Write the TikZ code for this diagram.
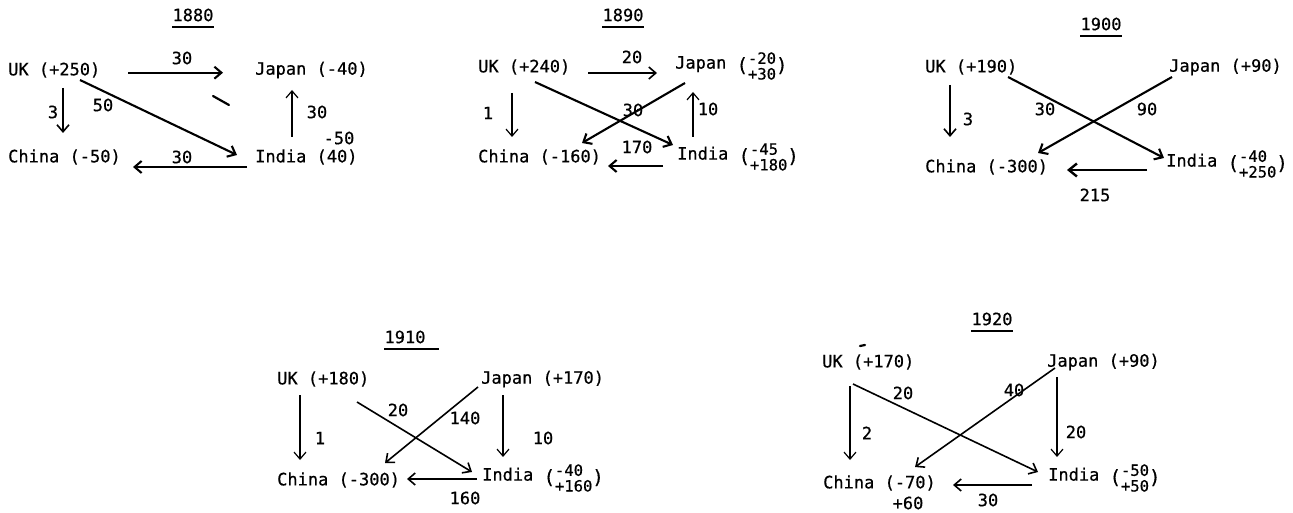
\documentclass[tikz,border=0pt]{standalone}
\usepackage{fontspec}
\setmainfont{DejaVu Sans Mono}[FakeBold=0.6,AutoFakeBold=0.6]
\usetikzlibrary{arrows.meta}
\newcommand{\pstack}[2]{{\fontsize{19}{19}\selectfont\raisebox{-3pt}{(}}\raisebox{-3pt}{\fontsize{15.5}{14}\selectfont\begin{tabular}[c]{@{}l@{}}#1\\#2\end{tabular}}{\fontsize{19}{19}\selectfont\raisebox{-3pt}{)}}}
\begin{document}
\begin{tikzpicture}[x=1pt,y=-1pt,
 txt/.style={anchor=west,inner sep=0pt,font=\fontsize{17}{17}\selectfont\bfseries},
 lbl/.style={inner sep=0pt,font=\fontsize{17}{17}\selectfont\bfseries},
 arr/.style={-{Straight Barb[length=7pt,width=12pt]},line width=1.2pt},
 marr/.style={arr,line width=1.6pt},
 tarr/.style={arr,line width=2.1pt},
 uline/.style={line width=1.8pt},
 speck/.style={line width=2.2pt,line cap=round}]
\useasboundingbox (0,0) rectangle (1293,513);
% ---------------- 1880 ----------------
\node[lbl] (t1880) at (193,15) {1880};
\draw[uline] ([yshift=-5pt]t1880.south west) -- ([yshift=-5pt]t1880.south east);
\node[txt] (uk1) at (8,70) {UK (+250)};
\node[txt] (jp1) at (255,70) {Japan (-40)};
\node[txt] (ch1) at (8,157) {China (-50)};
\node[txt] (in1) at (255,157) {India (40)};
\coordinate (a1s) at (128,72.7); \coordinate (a1e) at (223,72.7);
\coordinate (b1s) at (63,88);    \coordinate (b1e) at (63,133);
\coordinate (c1s) at (80,80);    \coordinate (c1e) at (237,155);
\coordinate (d1s) at (292,137);  \coordinate (d1e) at (292,90);
\coordinate (e1s) at (247,167);  \coordinate (e1e) at (133,167);
\draw[tarr] (a1s) -- (a1e);
\draw[marr] (b1s) -- (b1e);
\draw[tarr] (c1s) -- (c1e);
\draw[arr] (d1s) -- (d1e);
\draw[tarr] (e1s) -- (e1e);
\node[lbl] (la1) at (182,58) {30};
\node[lbl] (lb1) at (53,112) {3};
\node[lbl] (lc1) at (103,105) {50};
\node[lbl] (ld1) at (317,112) {30};
\node[lbl] (ld1b) at (339,138) {-50};
\node[lbl] (le1) at (182,157) {30};
\coordinate (s1a) at (213,96); \coordinate (s1b) at (229,105);
\draw[speck] (s1a) -- (s1b);
% ---------------- 1890 ----------------
\node[lbl] (t1890) at (623,15) {1890};
\draw[uline] ([yshift=-5pt]t1890.south west) -- ([yshift=-5pt]t1890.south east);
\node[txt] (uk2) at (478,67) {UK (+240)};
\node[txt] (jp2) at (675,68) {Japan \pstack{-20}{+30}};
\node[txt] (ch2) at (478,157) {China (-160)};
\node[txt] (in2) at (677,159) {India \pstack{-45}{+180}};
\coordinate (a2s) at (588,73);  \coordinate (a2e) at (657,73);
\coordinate (b2s) at (512,93);  \coordinate (b2e) at (512,137);
\coordinate (c2s) at (535,82);  \coordinate (c2e) at (673,145);
\coordinate (f2s) at (685,83);  \coordinate (f2e) at (582,143);
\coordinate (d2s) at (693,137); \coordinate (d2e) at (693,92);
\coordinate (e2s) at (663,166); \coordinate (e2e) at (608,166);
\draw[marr] (a2s) -- (a2e);
\draw[arr] (b2s) -- (b2e);
\draw[tarr] (c2s) -- (c2e);
\draw[tarr] (f2s) -- (f2e);
\draw[arr] (d2s) -- (d2e);
\draw[tarr] (e2s) -- (e2e);
\node[lbl] (la2) at (632,57) {20};
\node[lbl] (lb2) at (488,113) {1};
\node[lbl] (lf2) at (633,110) {30};
\node[lbl] (ld2) at (708,109) {10};
\node[lbl] (le2) at (637,147) {170};
% ---------------- 1900 ----------------
\node[lbl] (t1900) at (1101,24) {1900};
\draw[uline] ([yshift=-5pt]t1900.south west) -- ([yshift=-5pt]t1900.south east);
\node[txt] (uk3) at (925,67) {UK (+190)};
\node[txt] (jp3) at (1169,67) {Japan (+90)};
\node[txt] (ch3) at (925,167) {China (-300)};
\node[txt] (in3) at (1166,166) {India \pstack{-40}{+250}};
\coordinate (b3s) at (950,85);   \coordinate (b3e) at (950,137);
\coordinate (c3s) at (1008,77);  \coordinate (c3e) at (1164,158);
\coordinate (f3s) at (1172,77);  \coordinate (f3e) at (1038,153);
\coordinate (e3s) at (1147,170); \coordinate (e3e) at (1067,170);
\draw[marr] (b3s) -- (b3e);
\draw[tarr] (c3s) -- (c3e);
\draw[tarr] (f3s) -- (f3e);
\draw[marr,-{Straight Barb[length=8pt,width=13pt,line width=2.4pt]}] (e3s) -- (e3e);
\node[lbl] (lb3) at (968,119) {3};
\node[lbl] (lc3) at (1045,109) {30};
\node[lbl] (lf3) at (1147,109) {90};
\node[lbl] (le3) at (1095,195) {215};
% ---------------- 1910 ----------------
\node[lbl] (t1910) at (405,337) {1910};
\draw[uline] ([yshift=-5pt]t1910.south west) -- ([yshift=-5pt,xshift=13pt]t1910.south east);
\node[txt] (uk4) at (277,379) {UK (+180)};
\node[txt] (jp4) at (481,379) {Japan (+170)};
\node[txt] (ch4) at (277,480) {China (-300)};
\node[txt] (in4) at (482,480) {India \pstack{-40}{+160}};
\coordinate (b4s) at (300,395); \coordinate (b4e) at (300,460);
\coordinate (c4s) at (357,402); \coordinate (c4e) at (472,472);
\coordinate (f4s) at (478,387); \coordinate (f4e) at (385,463);
\coordinate (g4s) at (503,395); \coordinate (g4e) at (503,457);
\coordinate (e4s) at (477,479); \coordinate (e4e) at (407,479);
\draw[arr] (b4s) -- (b4e);
\draw[marr] (c4s) -- (c4e);
\draw[marr] (f4s) -- (f4e);
\draw[arr] (g4s) -- (g4e);
\draw[marr] (e4s) -- (e4e);
\node[lbl] (lb4) at (320,438) {1};
\node[lbl] (lc4) at (398,410) {20};
\node[lbl] (lf4) at (465,418) {140};
\node[lbl] (lg4) at (543,438) {10};
\node[lbl] (le4) at (465,498) {160};
% ---------------- 1920 ----------------
\node[lbl] (t1920) at (992,319) {1920};
\draw[uline] ([yshift=-5pt]t1920.south west) -- ([yshift=-5pt]t1920.south east);
\node[txt] (uk5) at (822,362) {UK (+170)};
\node[txt] (jp5) at (1047,362) {Japan (+90)};
\node[txt] (ch5) at (823,483) {China (-70)};
\node[lbl] (ch5b) at (908,503) {+60};
\node[txt] (in5) at (1048,480) {India \pstack{-50}{+50}};
\coordinate (b5s) at (850,386);  \coordinate (b5e) at (850,460);
\coordinate (c5s) at (853,384);  \coordinate (c5e) at (1038,472);
\coordinate (f5s) at (1055,368); \coordinate (f5e) at (915,467);
\coordinate (g5s) at (1057,377); \coordinate (g5e) at (1057,457);
\coordinate (e5s) at (1032,485); \coordinate (e5e) at (953,485);
\draw[arr] (b5s) -- (b5e);
\draw[marr] (c5s) -- (c5e);
\draw[marr] (f5s) -- (f5e);
\draw[arr] (g5s) -- (g5e);
\draw[marr] (e5s) -- (e5e);
\node[lbl] (lb5) at (867,433) {2};
\node[lbl] (lc5) at (903,393) {20};
\node[lbl] (lf5) at (1014,390) {40};
\node[lbl] (lg5) at (1076,432) {20};
\node[lbl] (le5) at (988,500) {30};
\coordinate (s5a) at (860,346); \coordinate (s5b) at (865,345);
\draw[speck] (s5a) -- (s5b);
\end{tikzpicture}
\end{document}
